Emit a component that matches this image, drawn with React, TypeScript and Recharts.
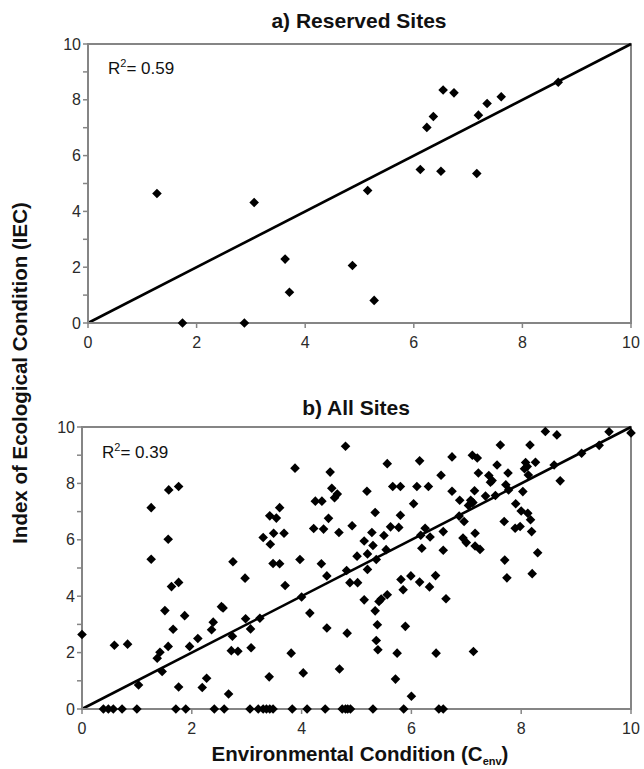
import React from "react";
import { ScatterChart, Scatter, XAxis, YAxis, ReferenceLine, ReferenceArea } from "recharts";

const FONT = "'Liberation Sans', Arial, sans-serif";
const AXIS_GREY = "#858585";

// a) reserved sites: [Cenv, IEC]
const reservedSites: [number, number][] = [
  [1.27, 4.64], [1.74, 0], [2.88, 0], [3.06, 4.32], [3.63, 2.29], [3.71, 1.1],
  [4.87, 2.06], [5.15, 4.75], [5.27, 0.81], [6.12, 5.5], [6.24, 7.01], [6.36, 7.4],
  [6.5, 5.44], [6.54, 8.35], [6.74, 8.25], [7.16, 5.36], [7.19, 7.45], [7.35, 7.87],
  [7.61, 8.11], [8.66, 8.63],
];

// b) all sites whose IEC is 0 (the row of points along the x axis)
const allSitesZeroX = [
  0.39, 0.48, 0.57, 0.73, 1.0, 1.71, 1.89, 2.41, 2.59, 3.06, 3.21, 3.3, 3.36,
  3.42, 3.48, 3.83, 4.1, 4.43, 4.74, 4.8, 4.84, 4.89, 5.3, 5.86, 6.5, 6.58,
];

// b) all other sites: [Cenv, IEC]
const allSites: [number, number][] = [
  [0, 2.64], [0.59, 2.26], [0.83, 2.3], [1.03, 0.85], [1.26, 7.14], [1.26, 5.31],
  [1.37, 1.8], [1.42, 2.01], [1.46, 1.33], [1.51, 3.49], [1.57, 6.02], [1.57, 2.22],
  [1.58, 7.77], [1.63, 4.34], [1.66, 2.83], [1.76, 7.89], [1.76, 4.49], [1.76, 0.78],
  [1.87, 3.31], [1.96, 2.22], [2.11, 2.5], [2.19, 0.76], [2.27, 1.09], [2.36, 2.81],
  [2.39, 3.08], [2.54, 3.63], [2.57, 3.58], [2.67, 0.53], [2.74, 2.58], [2.75, 5.22],
  [2.72, 2.07], [2.84, 2.05], [2.97, 4.64], [2.98, 3.2], [3.07, 2.84], [3.08, 2.17],
  [3.24, 3.22], [3.41, 1.14],
  [3.3, 6.08], [3.43, 5.84], [3.42, 6.85], [3.54, 6.77], [3.6, 7.14], [3.49, 6.23],
  [3.68, 6.23], [3.48, 5.16], [3.6, 5.15], [3.7, 4.38], [3.81, 1.98], [3.88, 8.54],
  [3.97, 5.3], [4.0, 3.97], [4.03, 1.28],
  [4.15, 3.4], [4.25, 7.37], [4.37, 7.37], [4.22, 6.4], [4.4, 6.38], [4.36, 5.15],
  [4.46, 4.72], [4.46, 2.87], [4.49, 6.76], [4.52, 8.4], [4.55, 7.83], [4.6, 7.49],
  [4.65, 7.62], [4.68, 6.26], [4.69, 1.42], [4.8, 9.32], [4.82, 4.91], [4.83, 2.69],
  [4.88, 4.48], [4.92, 6.5],
  [5.01, 5.42], [5.02, 4.48], [5.14, 5.96], [5.14, 3.87], [5.19, 7.72], [5.2, 5.5],
  [5.2, 4.95], [5.28, 6.26], [5.3, 5.8], [5.34, 6.97], [5.34, 3.48], [5.36, 5.3],
  [5.38, 2.99], [5.36, 2.43], [5.39, 2.1], [5.41, 3.81], [5.45, 3.9], [5.5, 6.15],
  [5.54, 5.65], [5.56, 4.05], [5.56, 8.7], [5.62, 6.46], [5.66, 7.89], [5.71, 1.06],
  [5.74, 1.98], [5.77, 6.44], [5.8, 7.89], [5.8, 6.87], [5.81, 4.59], [5.85, 4.23],
  [5.89, 2.93], [5.99, 4.72],
  [6.0, 0.45], [6.04, 7.28], [6.1, 7.89], [6.15, 8.8], [6.15, 4.5], [6.17, 6.16],
  [6.19, 5.7], [6.25, 6.41], [6.31, 7.89], [6.33, 4.33], [6.34, 6.1], [6.44, 4.73],
  [6.45, 1.98], [6.54, 8.29], [6.58, 6.29], [6.58, 5.63], [6.63, 3.91], [6.74, 7.72],
  [6.74, 8.94],
  [6.88, 7.4], [6.87, 6.84], [6.96, 6.65], [6.94, 6.06], [7.0, 5.9], [7.04, 7.22],
  [7.08, 7.4], [7.12, 7.32], [7.11, 9.0], [7.2, 8.9], [7.15, 7.74], [7.16, 6.23],
  [7.16, 5.78], [7.25, 5.66], [7.13, 2.04], [7.22, 8.37], [7.35, 7.55], [7.41, 8.28],
  [7.47, 8.1], [7.44, 8.04], [7.53, 7.57], [7.56, 8.65], [7.62, 9.36], [7.69, 6.65],
  [7.7, 5.28], [7.72, 7.95], [7.76, 8.37], [7.77, 7.77], [7.74, 4.65], [7.9, 7.28],
  [7.89, 6.41], [7.98, 6.47], [8.0, 7.02], [8.03, 7.71], [8.06, 8.52], [8.08, 8.74],
  [8.11, 8.6], [8.12, 6.94], [8.13, 8.3], [8.16, 9.36], [8.17, 6.71], [8.19, 6.29],
  [8.2, 4.8], [8.26, 8.75], [8.3, 5.54], [8.44, 9.84], [8.6, 8.65], [8.65, 9.72],
  [8.71, 8.09], [9.1, 9.07], [9.42, 9.35], [9.6, 9.83], [10.0, 9.79],
];

const fitLine = [{ x: 0, y: 0 }, { x: 10, y: 10 }];
const xTicks = [0, 2, 4, 6, 8, 10];
const yTicks = [0, 1, 2, 3, 4, 5, 6, 7, 8, 9, 10];

const Diamond = (props: any) => {
  const { cx, cy } = props;
  const r = 4.8;
  return <path d={`M${cx},${cy - r}L${cx + r},${cy}L${cx},${cy + r}L${cx - r},${cy}Z`} fill="#000" />;
};

type PanelProps = {
  points: { x: number; y: number }[];
  top: number;
  height: number;
  margin: { top: number; right: number; bottom: number; left: number };
  yAxisWidth: number;
};

function Panel({ points, top, height, margin, yAxisWidth }: PanelProps) {
  const tickStyle = { fontSize: 16, fill: "#2a2a2a", fontFamily: FONT };
  return (
    <div style={{ position: "absolute", left: 0, top }}>
      <ScatterChart width={644} height={height} margin={margin}>
        <XAxis
          type="number"
          dataKey="x"
          domain={[0, 10]}
          ticks={xTicks}
          height={30}
          tick={tickStyle}
          tickSize={5}
          tickMargin={9}
          axisLine={{ stroke: AXIS_GREY, strokeWidth: 2 }}
          tickLine={{ stroke: AXIS_GREY, strokeWidth: 1.5 }}
        />
        <YAxis
          type="number"
          dataKey="y"
          domain={[0, 10]}
          ticks={yTicks}
          width={yAxisWidth}
          tick={tickStyle}
          tickFormatter={(v: number) => (v % 2 === 0 ? String(v) : "")}
          tickSize={5}
          tickMargin={2}
          axisLine={{ stroke: AXIS_GREY, strokeWidth: 2 }}
          tickLine={{ stroke: AXIS_GREY, strokeWidth: 1.5 }}
        />
        <ReferenceArea x1={0} x2={10} y1={0} y2={10} fill="none" stroke={AXIS_GREY} strokeWidth={2} />
        <ReferenceLine segment={fitLine} stroke="#000" strokeWidth={2.6} ifOverflow="visible" />
        <Scatter data={points} shape={Diamond} isAnimationActive={false} />
      </ScatterChart>
    </div>
  );
}

export default function App() {
  const reserved = reservedSites.map(([x, y]) => ({ x, y }));
  const all = [...allSitesZeroX.map((x) => ({ x, y: 0 })), ...allSites.map(([x, y]) => ({ x, y }))];

  return (
    <div style={{ position: "absolute", left: 0, top: 0, width: 644, height: 769, background: "#fff" }}>
      <Panel points={reserved} top={0} height={360} margin={{ top: 44, right: 13, bottom: 7, left: 0 }} yAxisWidth={88} />
      <Panel points={all} top={380} height={389} margin={{ top: 47, right: 13, bottom: 30, left: 0 }} yAxisWidth={82} />
      <svg width={644} height={769} style={{ position: "absolute", left: 0, top: 0, pointerEvents: "none" }}>
        <g fontFamily={FONT} fill="#111">
          <text x={359} y={28} textAnchor="middle" fontSize={21} fontWeight="bold">a) Reserved Sites</text>
          <text x={108} y={74} fontSize={17}>
            R<tspan dy={-7} fontSize={11}>2</tspan><tspan dy={7}>= 0.59</tspan>
          </text>
          <text x={356} y={415} textAnchor="middle" fontSize={21} fontWeight="bold">b) All Sites</text>
          <text x={102} y={458} fontSize={17}>
            R<tspan dy={-7} fontSize={11}>2</tspan><tspan dy={7}>= 0.39</tspan>
          </text>
          <text x={360} y={761} textAnchor="middle" fontSize={20.5} fontWeight="bold">
            Environmental Condition (C<tspan dy={4} fontSize={11}>env</tspan><tspan dy={-4}>)</tspan>
          </text>
          <text x={0} y={0} transform="translate(27,373) rotate(-90)" textAnchor="middle" fontSize={20.5} fontWeight="bold">
            Index of Ecological Condition (IEC)
          </text>
        </g>
      </svg>
    </div>
  );
}
